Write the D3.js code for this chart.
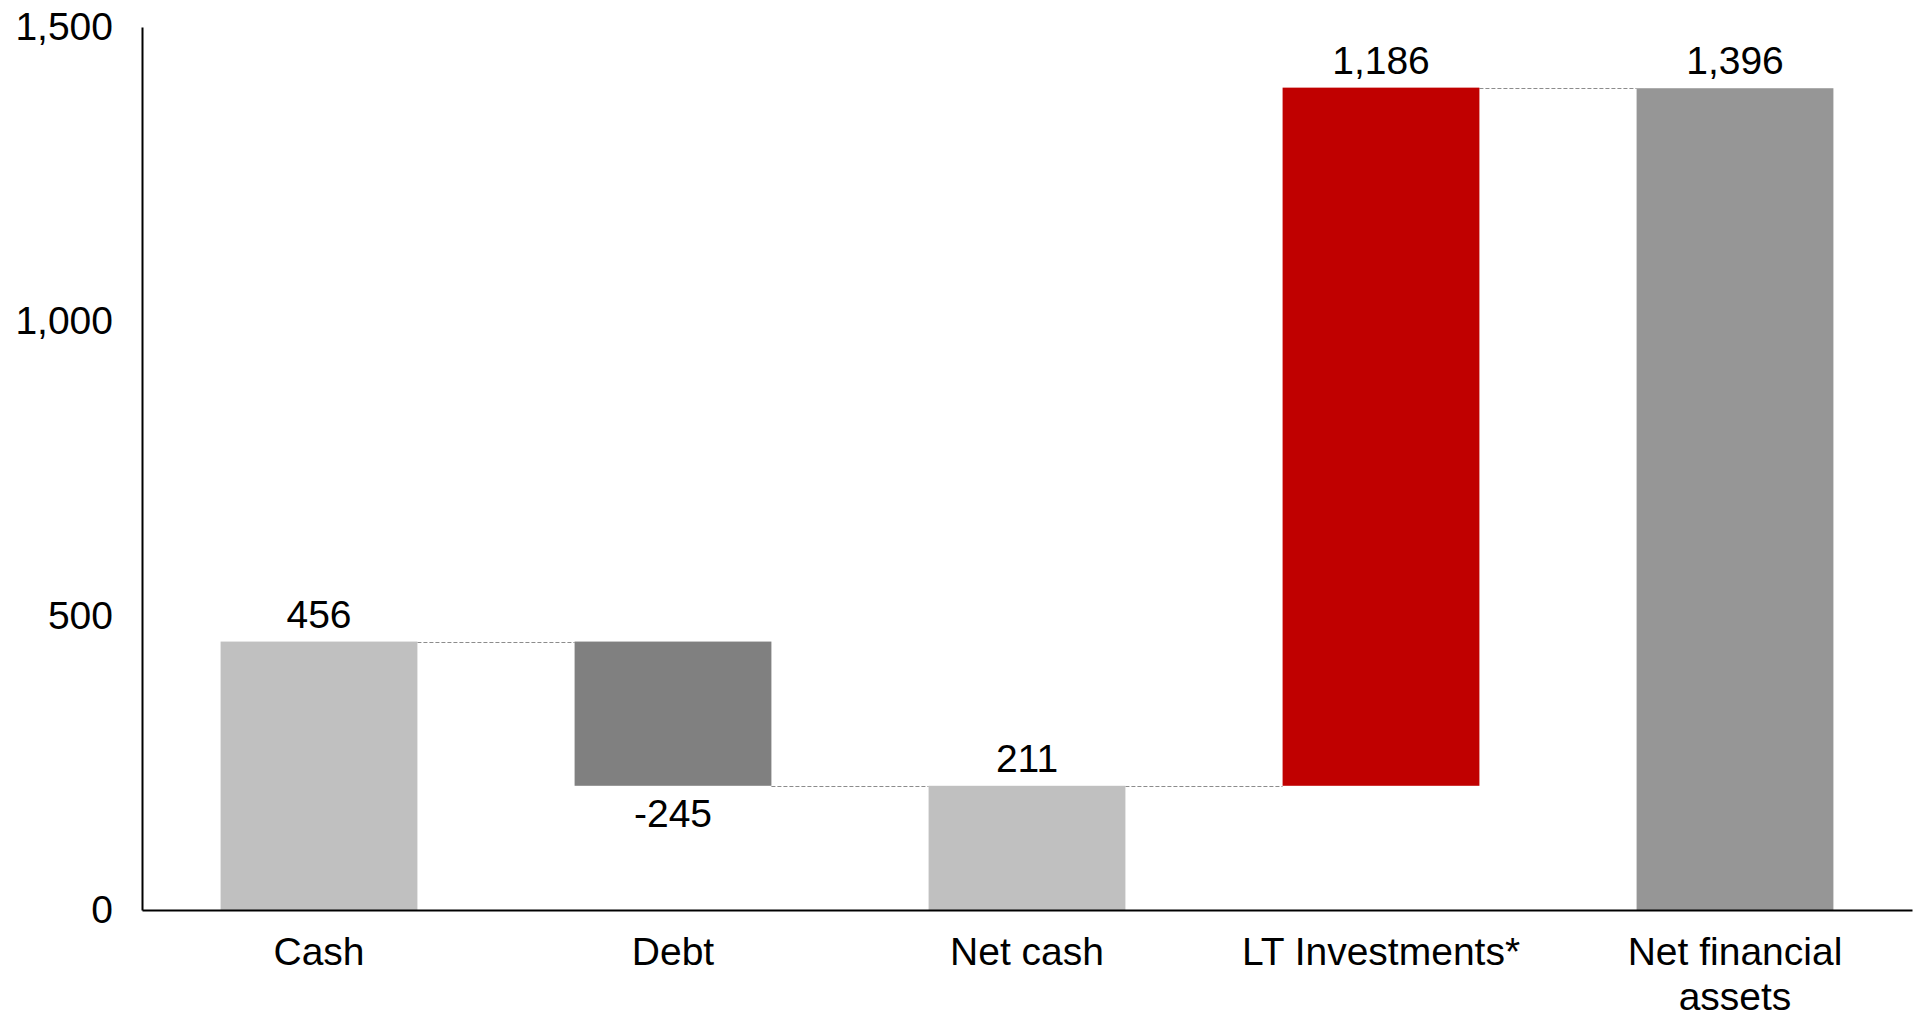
<!DOCTYPE html>
<html>
<head>
<meta charset="utf-8">
<script src="https://cdn.jsdelivr.net/npm/d3@7"></script>
<style>
  html, body { margin: 0; padding: 0; background: #fff; }
  svg { display: block; font-family: Arial, "Liberation Sans", sans-serif; }
</style>
</head>
<body>
<svg id="chart" width="1917" height="1018"></svg>
<script>
// Waterfall: cash less debt gives net cash, plus long-term investments gives net financial assets
const categories = ["Cash", "Debt", "Net cash", "LT Investments*", "Net financial assets"];
const values = [456, -245, 211, 1186, 1396];
const kinds = ["total", "delta", "total", "delta", "total"];
const barColors = ["#c0c0c0", "#808080", "#c0c0c0", "#c00000", "#969696"];
const yTicks = [0, 500, 1000, 1500];

const W = 1917, H = 1018;
const margin = { left: 142, right: 5, top: 27, bottom: 108 };

const svg = d3.select("#chart");

const x = d3.scaleBand()
  .domain(categories)
  .range([margin.left, W - margin.right])
  .paddingInner(0.444)
  .paddingOuter(0.222);

const y = d3.scaleLinear()
  .domain([0, 1500])
  .range([H - margin.bottom, margin.top]);

// Compute start/end of each bar
let running = 0;
const bars = categories.map((c, i) => {
  let start, end;
  if (kinds[i] === "total") {
    start = 0; end = values[i]; running = values[i];
  } else {
    start = running; end = running + values[i]; running = end;
  }
  return { cat: c, value: values[i], start, end, color: barColors[i] };
});

// Dashed connectors between consecutive bars
const conn = svg.append("g");
for (let i = 0; i < bars.length - 1; i++) {
  const level = bars[i].end;
  conn.append("line")
    .attr("x1", x(bars[i].cat) + x.bandwidth())
    .attr("x2", x(bars[i + 1].cat))
    .attr("y1", Math.round(y(level)) + 0.5)
    .attr("y2", Math.round(y(level)) + 0.5)
    .attr("stroke", "#8c8c8c")
    .attr("stroke-width", 1.2)
    .attr("stroke-dasharray", "4,2");
}

// Bars
svg.append("g").selectAll("rect")
  .data(bars)
  .join("rect")
  .attr("x", d => x(d.cat))
  .attr("width", x.bandwidth())
  .attr("y", d => y(Math.max(d.start, d.end)))
  .attr("height", d => Math.abs(y(d.start) - y(d.end)))
  .attr("fill", d => d.color);

// Value labels (plain hyphen for negatives)
const fmt = v => d3.format(",")(v).replace("\u2212", "-");
svg.append("g").selectAll("text")
  .data(bars)
  .join("text")
  .attr("x", d => x(d.cat) + x.bandwidth() / 2)
  .attr("y", d => d.value < 0 ? y(d.end) + 41 : y(Math.max(d.start, d.end)) - 14)
  .attr("text-anchor", "middle")
  .attr("font-size", 39)
  .attr("fill", "#000")
  .text(d => fmt(d.value));

// Y axis
const yAxis = d3.axisLeft(y).tickValues(yTicks).tickSize(0).tickPadding(29).tickFormat(fmt);
const gy = svg.append("g").attr("transform", `translate(${margin.left},0)`).call(yAxis);
gy.select(".domain").attr("stroke", "#000").attr("stroke-width", 2);
gy.selectAll("text").attr("font-size", 39).attr("fill", "#000").attr("font-family", null);

// X axis
const xAxis = d3.axisBottom(x).tickSize(0).tickPadding(0);
const gx = svg.append("g").attr("transform", `translate(0,${H - margin.bottom})`).call(xAxis);
gx.select(".domain").attr("stroke", "#000").attr("stroke-width", 2);
gx.selectAll(".tick text").remove();
gx.selectAll(".tick").each(function(d) {
  const lines = d === "Net financial assets" ? ["Net financial", "assets"] : [d];
  const t = d3.select(this).append("text")
    .attr("text-anchor", "middle")
    .attr("font-size", 39)
    .attr("fill", "#000");
  lines.forEach((ln, k) => {
    t.append("tspan").attr("x", 0).attr("y", 55 + k * 45).text(ln);
  });
});
</script>
</body>
</html>
